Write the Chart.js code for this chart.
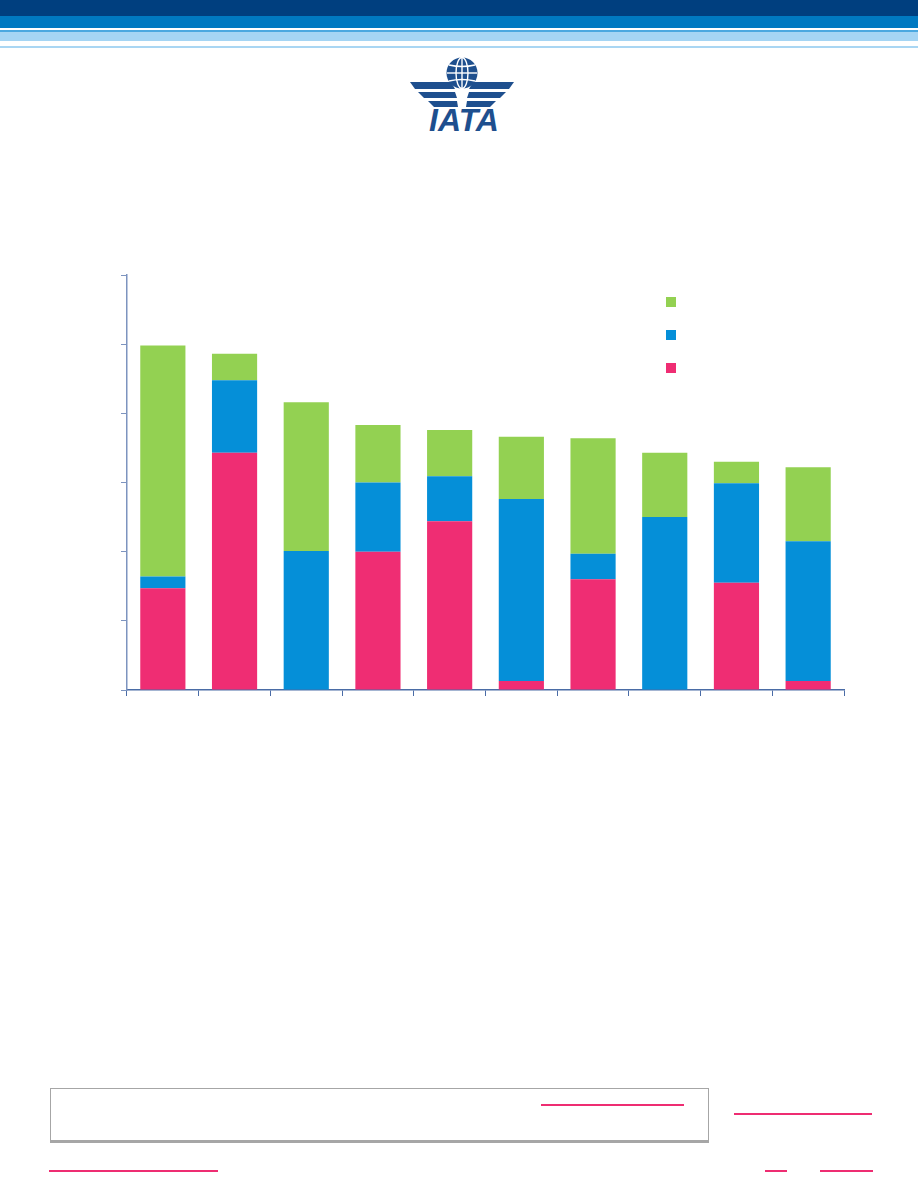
<!DOCTYPE html>
<html>
<head>
<meta charset="utf-8">
<script src="https://cdn.jsdelivr.net/npm/chart.js@4.4.1/dist/chart.umd.min.js"></script>
<style>
  html,body{margin:0;padding:0;background:#fff;}
  body{width:918px;height:1188px;position:relative;overflow:hidden;font-family:"Liberation Sans",Arial,sans-serif;}
  .band{position:absolute;left:0;width:918px;}
  #chartWrap{position:absolute;left:0;top:240px;width:918px;height:456px;}
  .ln{position:absolute;height:2px;background:#ee2d72;}
</style>
</head>
<body>
<div class="band" style="top:0;height:16px;background:#003f7f;"></div>
<div class="band" style="top:16px;height:12px;background:#0079c1;"></div>
<div class="band" style="top:30px;height:2px;background:#4aa8e0;"></div>
<div class="band" style="top:32px;height:9px;background:#a5d5f4;"></div>
<div class="band" style="top:46px;height:2px;background:#a9d6f3;"></div>

<svg style="position:absolute;left:400px;top:55px;" width="130" height="80" viewBox="0 0 130 80">
  <g fill="#1e4f8e">
    <circle cx="62" cy="18" r="15.5"/>
    <polygon points="10,27 51,27 55,34 15,34"/>
    <polygon points="18,37 55,37 57,43 24,43"/>
    <polygon points="28,46 57,46 58,52 34,52"/>
    <polygon points="114,27 73,27 69,34 109,34"/>
    <polygon points="106,37 69,37 67,43 100,43"/>
    <polygon points="96,46 67,46 66,52 90,52"/>
  </g>
  <g fill="none" stroke="#fff" stroke-width="1.4">
    <ellipse cx="62" cy="18" rx="6" ry="15.5"/>
    <line x1="62" y1="2.5" x2="62" y2="33.5"/>
    <line x1="47" y1="18" x2="77" y2="18"/>
    <path d="M49,10 Q62,13 75,10"/>
    <path d="M49,26 Q62,23 75,26"/>
  </g>
  <text x="64" y="76" text-anchor="middle" font-family="Liberation Sans, Arial, sans-serif" font-weight="bold" font-style="italic" font-size="32" fill="#1e4f8e">IATA</text>
</svg>

<div id="chartWrap"><canvas id="c" width="918" height="456"></canvas></div>

<div style="position:absolute;left:50px;top:1088px;width:657px;height:51px;border:1px solid #a6a6a6;border-bottom:3px solid #a6a6a6;"></div>
<div class="ln" style="left:541px;top:1104px;width:143px;"></div>
<div class="ln" style="left:734px;top:1113px;width:138px;"></div>
<div class="ln" style="left:49px;top:1170px;width:169px;"></div>
<div class="ln" style="left:765px;top:1170px;width:22px;"></div>
<div class="ln" style="left:820px;top:1170px;width:53px;"></div>

<script>
const categories = ['', '', '', '', '', '', '', '', '', ''];
const seriesNames = ['', '', ''];
const redValues   = [1.47, 3.43, 0,    2.00, 2.44, 0.13, 1.60, 0,    1.55, 0.13];
const blueValues  = [0.17, 1.05, 2.01, 1.00, 0.65, 2.63, 0.37, 2.50, 1.44, 2.02];
const greenValues = [3.34, 0.38, 2.15, 0.83, 0.67, 0.90, 1.67, 0.93, 0.31, 1.07];
const yTicks = [0, 1, 2, 3, 4, 5, 6];

const colors = {red:'#ef2d73', blue:'#058fd8', green:'#93d152'};

const legendPlugin = {
  id: 'squareLegend',
  afterDraw(chart) {
    const ctx = chart.ctx;
    const items = [colors.green, colors.blue, colors.red];
    ctx.save();
    items.forEach((c, i) => {
      ctx.fillStyle = c;
      ctx.fillRect(666, 57 + i * 33, 10, 10);
    });
    ctx.restore();
  }
};

new Chart(document.getElementById('c'), {
  type: 'bar',
  data: {
    labels: categories,
    datasets: [
      {label: seriesNames[0], data: redValues, backgroundColor: colors.red},
      {label: seriesNames[1], data: blueValues, backgroundColor: colors.blue},
      {label: seriesNames[2], data: greenValues, backgroundColor: colors.green}
    ]
  },
  options: {
    responsive: false,
    animation: false,
    events: [],
    layout: {padding: {left: 121, right: 74, top: 35, bottom: 0}},
    plugins: {legend: {display: false}, tooltip: {enabled: false}},
    datasets: {bar: {barPercentage: 0.63, categoryPercentage: 1}},
    scales: {
      x: {
        stacked: true,
        grid: {display: true, drawOnChartArea: false, drawTicks: true, tickLength: 6, color: '#4a6ca6', offset: true},
        border: {display: true, color: '#4a6ca6', width: 1.5},
        ticks: {display: false}
      },
      y: {
        stacked: true,
        min: yTicks[0],
        max: yTicks[yTicks.length - 1],
        afterBuildTicks: (axis) => { axis.ticks = yTicks.map(v => ({value: v})); },
        grid: {display: true, drawOnChartArea: false, drawTicks: true, tickLength: 6, color: '#7d94bf'},
        border: {display: true, color: '#7d94bf', width: 1.5},
        ticks: {display: false}
      }
    }
  },
  plugins: [legendPlugin]
});
</script>
</body>
</html>
